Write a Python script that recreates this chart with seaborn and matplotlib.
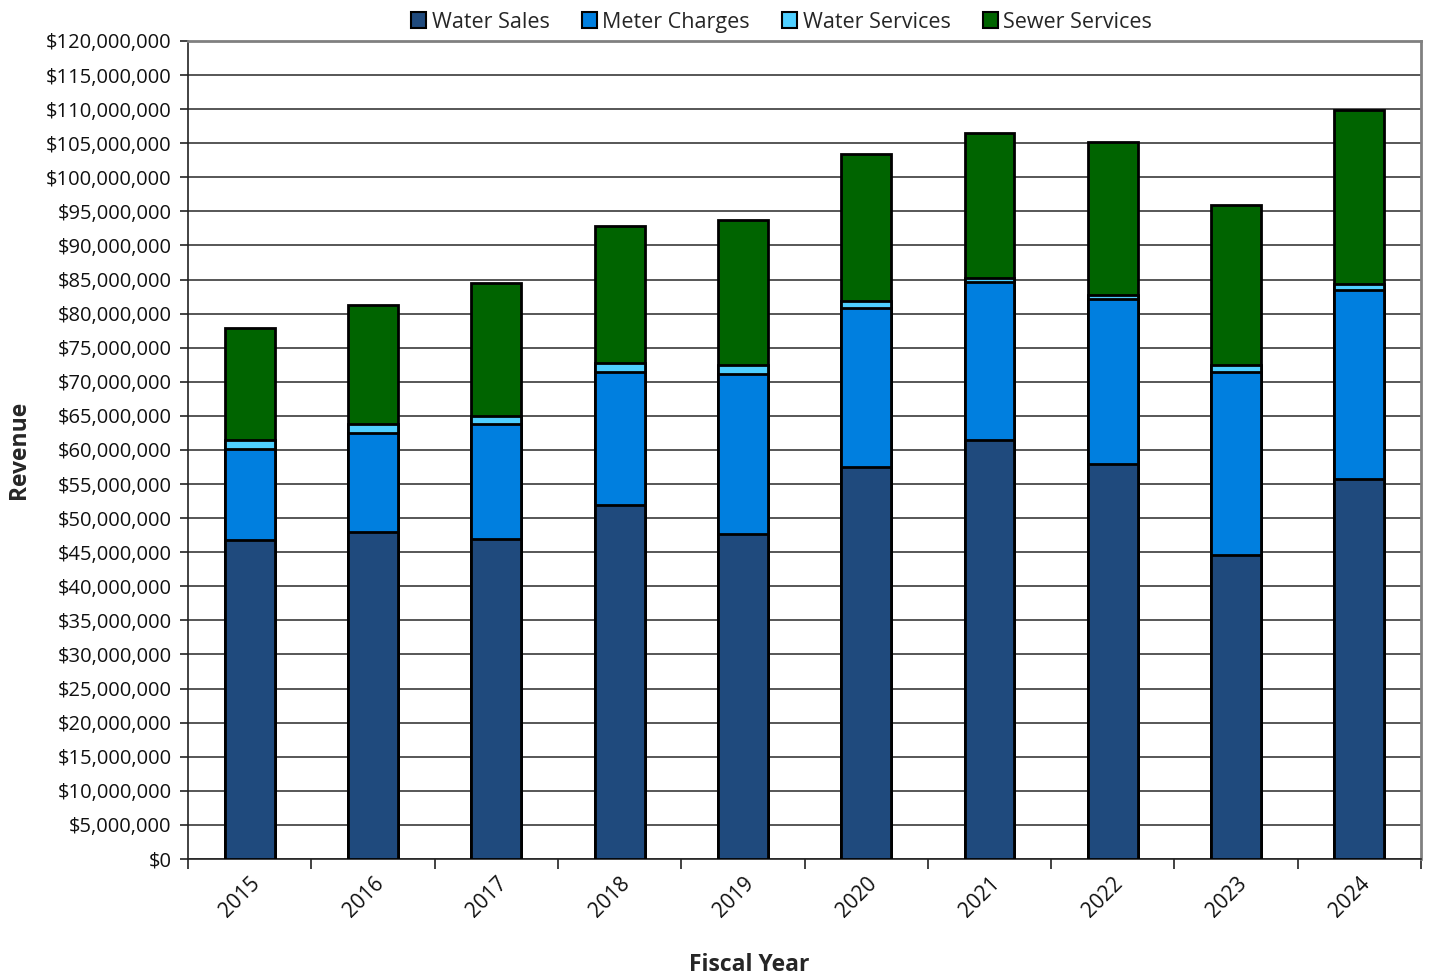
import matplotlib
matplotlib.use("Agg")
import matplotlib.pyplot as plt
from matplotlib.patches import Patch
from matplotlib.ticker import FuncFormatter, MultipleLocator, FixedLocator
import numpy as np
import pandas as pd
import seaborn as sns

# Revenue by fiscal year, in millions of dollars
years = ["2015", "2016", "2017", "2018", "2019", "2020", "2021", "2022", "2023", "2024"]
water_sales = [46.8, 47.9, 47.0, 51.9, 47.7, 57.5, 61.5, 58.0, 44.6, 55.7]
meter_charges = [13.4, 14.6, 16.8, 19.6, 23.5, 23.3, 23.1, 24.2, 26.9, 27.8]
water_services = [1.3, 1.3, 1.2, 1.3, 1.2, 1.1, 0.7, 0.6, 0.9, 0.9]
sewer_services = [16.4, 17.4, 19.5, 20.1, 21.4, 21.5, 21.2, 22.4, 23.5, 25.4]

series_names = ["Water Sales", "Meter Charges", "Water Services", "Sewer Services"]
series_colors = ["#1F4A7D", "#007FDF", "#4FCFFF", "#006400"]

sns.set_theme(style="white")
plt.rcParams["font.family"] = ["Open Sans", "DejaVu Sans"]

df = pd.DataFrame({
    "year": years,
    "Water Sales": water_sales,
    "Meter Charges": meter_charges,
    "Water Services": water_services,
    "Sewer Services": sewer_services,
})
# cumulative tops for stacking (in dollars)
cum = df[series_names].cumsum(axis=1) * 1e6
cum["year"] = years

fig = plt.figure(figsize=(14.29, 9.8), dpi=100)
ax = fig.add_axes([0.1316, 0.1235, 0.8628, 0.8347])

# draw from the tallest cumulative layer down so lower layers overlay
for name, color in reversed(list(zip(series_names, series_colors))):
    sns.barplot(data=cum, x="year", y=name, color=color, width=0.405,
                edgecolor="black", linewidth=2, saturation=1, ax=ax, zorder=3)

ax.set_ylim(0, 120e6)
ax.set_xlim(-0.5, len(years) - 0.5)
ax.yaxis.set_major_locator(MultipleLocator(5e6))
ax.yaxis.set_major_formatter(FuncFormatter(lambda v, p: f"${v:,.0f}"))
ax.grid(axis="y", color="#3a3a3a", linewidth=1.2, zorder=0)
ax.set_axisbelow(True)

ax.tick_params(axis="y", which="major", direction="out", length=6, width=1.2,
               color="#222222", labelsize=14.5, pad=6, left=True, labelcolor="#111111")
ax.tick_params(axis="x", which="major", length=0, labelsize=15, pad=10, labelcolor="#111111")
ax.xaxis.set_minor_locator(FixedLocator(np.arange(-0.5, len(years), 1.0)))
ax.tick_params(axis="x", which="minor", direction="out", length=7, width=1.2,
               color="#222222", bottom=True)
for lbl in ax.get_xticklabels():
    lbl.set_rotation(45)
    lbl.set_ha("right")
    lbl.set_rotation_mode("anchor")

for side in ["top", "right"]:
    ax.spines[side].set_color("#808080")
    ax.spines[side].set_linewidth(2)
ax.spines["left"].set_color("#222222")
ax.spines["left"].set_linewidth(1.2)
ax.spines["bottom"].set_color("#222222")
ax.spines["bottom"].set_linewidth(1.2)

ax.set_xlabel("Fiscal Year", fontsize=16.5, fontweight="bold")
ax.set_ylabel("Revenue", fontsize=16.5, fontweight="bold")
ax.xaxis.set_label_coords(0.455, -0.115)
ax.yaxis.set_label_coords(-0.127, 0.5)

handles = [Patch(facecolor=c, edgecolor="black", linewidth=1.5, label=n)
           for n, c in zip(series_names, series_colors)]
fig.legend(handles=handles, loc="upper center", bbox_to_anchor=(0.547, 1.008),
           ncol=4, frameon=False, fontsize=15.5, handlelength=0.7, handleheight=0.7,
           handletextpad=0.25, columnspacing=1.5)

fig.savefig("out.png", dpi=100)
